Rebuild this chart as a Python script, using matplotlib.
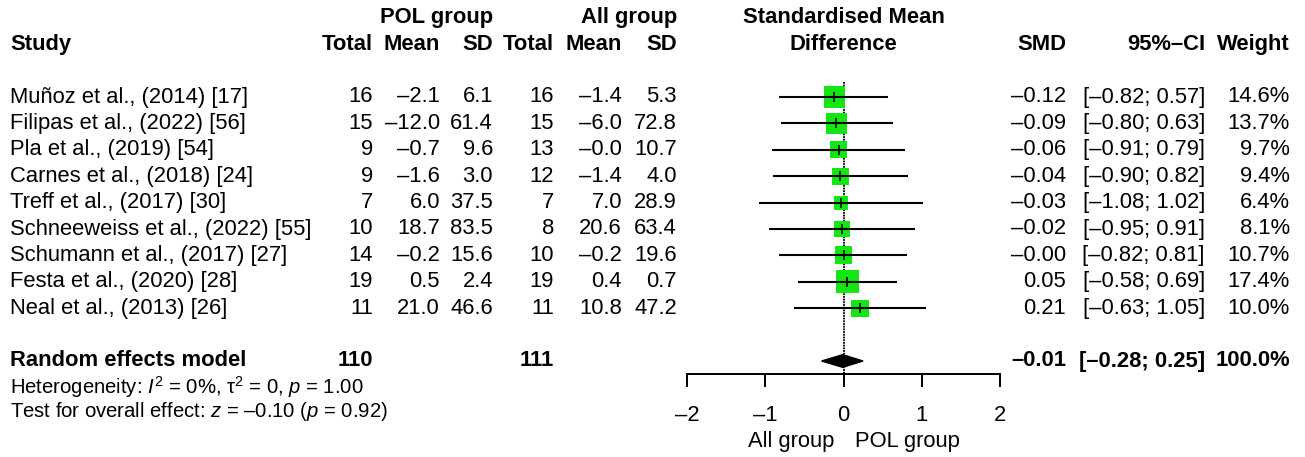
import matplotlib
matplotlib.use("Agg")
import matplotlib.pyplot as plt
import matplotlib.transforms as mtransforms
import numpy as np

plt.rcParams['font.family'] = ['Liberation Sans', 'DejaVu Sans']
plt.rcParams['mathtext.fontset'] = 'custom'
plt.rcParams['mathtext.rm'] = 'Liberation Sans'
plt.rcParams['mathtext.it'] = 'Liberation Sans:italic'

# data
studies = ["Muñoz et al., (2014) [17]", "Filipas et al., (2022) [56]", "Pla et al., (2019) [54]",
           "Carnes et al., (2018) [24]", "Treff et al., (2017) [30]", "Schneeweiss et al., (2022) [55]",
           "Schumann et al., (2017) [27]", "Festa et al., (2020) [28]", "Neal et al., (2013) [26]"]
pol_n = [16, 15, 9, 9, 7, 10, 14, 19, 11]
pol_mean = [-2.1, -12.0, -0.7, -1.6, 6.0, 18.7, -0.2, 0.5, 21.0]
pol_sd = [6.1, 61.4, 9.6, 3.0, 37.5, 83.5, 15.6, 2.4, 46.6]
all_n = [16, 15, 13, 12, 7, 8, 10, 19, 11]
all_mean = [-1.4, -6.0, -0.0, -1.4, 7.0, 20.6, -0.2, 0.4, 10.8]
all_sd = [5.3, 72.8, 10.7, 4.0, 28.9, 63.4, 19.6, 0.7, 47.2]
smd = [-0.12, -0.09, -0.06, -0.04, -0.03, -0.02, -0.00, 0.05, 0.21]
ci_lo = [-0.82, -0.80, -0.91, -0.90, -1.08, -0.95, -0.82, -0.58, -0.63]
ci_hi = [0.57, 0.63, 0.79, 0.82, 1.02, 0.91, 0.81, 0.69, 1.05]
weight = [14.6, 13.7, 9.7, 9.4, 6.4, 8.1, 10.7, 17.4, 10.0]

pooled_n = [110, 111]
pooled_smd = -0.01
pooled_lo = -0.28
pooled_hi = 0.25
heterogeneity = r"Heterogeneity: $I^2$ = 0%, τ$^2$ = 0, $p$ = 1.00"
overall = r"Test for overall effect: $z$ = –0.10 ($p$ = 0.92)"
xticks = [-2, -1, 0, 1, 2]

W, H = 1305, 457
fig = plt.figure(figsize=(W / 100, H / 100), dpi=100)
row0, step = 97, 26.4
ax = fig.add_axes([687 / W, 0, 313 / W, 1])
ax.set_xlim(-2, 2)
ax.set_ylim((H - row0) / step, (0 - row0) / step)
for s in ['top', 'left', 'right']:
    ax.spines[s].set_visible(False)
ax.spines['bottom'].set_position(('data', 10.5))
ax.spines['bottom'].set_bounds(-2, 2)
ax.spines['bottom'].set_linewidth(1.4)
ax.set_yticks([])
ax.set_xticks(xticks)
ax.set_xticklabels([str(t).replace('-', '–') for t in xticks])
ax.tick_params(axis='x', direction='out', length=9, width=1.4, labelsize=15.8, pad=13)

fs = 15.8
rows = np.arange(len(studies))

def fmt(v, d):
    return f"{v:.{d}f}".replace('-', '–')

# forest marks
ax.plot([0, 0], [-0.57, 10.5], color='black', lw=1.3, ls=(0, (1, 0.5)), zorder=1)
ax.scatter(smd, rows, marker='s', s=[(5.5 * np.sqrt(w) * 0.72) ** 2 for w in weight],
           color='#14e614', edgecolors='none', zorder=2)
ax.hlines(rows, ci_lo, ci_hi, color='black', lw=1.5, zorder=3)
ax.scatter(smd, rows, marker='|', s=50, color='black', lw=1.1, zorder=4)
ax.fill([pooled_lo, pooled_smd, pooled_hi, pooled_smd],
        [10, 10 - 0.24, 10, 10 + 0.24], color='black', zorder=3)

ax.text(0, -3, "Standardised Mean", ha='center', va='center', fontsize=fs, fontweight='bold')
ax.text(0, -2, "Difference", ha='center', va='center', fontsize=fs, fontweight='bold')
ax.text(-0.12, 13.05, "All group", ha='right', va='center', fontsize=fs)
ax.text(0.15, 13.05, "POL group", ha='left', va='center', fontsize=fs)

# table text
tr = mtransforms.blended_transform_factory(fig.transFigure, ax.transData)

def txt(px, y, s, ha='right', bold=False, size=fs):
    ax.text(px / W, y, s, transform=tr, ha=ha, va='center', fontsize=size,
            fontweight='bold' if bold else 'normal', clip_on=False)

cols = {'pn': 373, 'pm': 440, 'ps': 493, 'an': 554, 'am': 622, 'as': 677,
        'smd': 1066, 'ci': 1205, 'w': 1290}

txt(437, -3, "POL group", ha='center', bold=True)
txt(629, -3, "All group", ha='center', bold=True)
txt(10, -2, "Study", ha='left', bold=True)
for key, lab in [('pn', 'Total'), ('pm', 'Mean'), ('ps', 'SD'), ('an', 'Total'),
                 ('am', 'Mean'), ('as', 'SD'), ('smd', 'SMD'), ('ci', '95%–CI'), ('w', 'Weight')]:
    txt(cols[key], -2, lab, bold=True)

for i in rows:
    txt(10, i, studies[i], ha='left')
    txt(cols['pn'], i, str(pol_n[i]))
    txt(cols['pm'], i, fmt(pol_mean[i], 1))
    txt(cols['ps'], i, fmt(pol_sd[i], 1))
    txt(cols['an'], i, str(all_n[i]))
    txt(cols['am'], i, fmt(all_mean[i], 1))
    txt(cols['as'], i, fmt(all_sd[i], 1))
    txt(cols['smd'], i, fmt(smd[i], 2))
    txt(cols['ci'], i, f"[{fmt(ci_lo[i], 2)}; {fmt(ci_hi[i], 2)}]")
    txt(cols['w'], i, f"{weight[i]:.1f}%")

txt(10, 10, "Random effects model", ha='left', bold=True)
txt(cols['pn'], 10, str(pooled_n[0]), bold=True)
txt(cols['an'], 10, str(pooled_n[1]), bold=True)
txt(cols['smd'], 10, fmt(pooled_smd, 2), bold=True)
txt(cols['ci'], 10, f"[{fmt(pooled_lo, 2)}; {fmt(pooled_hi, 2)}]", bold=True)
txt(cols['w'], 10, "100.0%", bold=True)
txt(10, 11.0, heterogeneity, ha='left', size=14.6)
txt(10, 11.92, overall, ha='left', size=14.6)

fig.savefig("out.png", dpi=100)
